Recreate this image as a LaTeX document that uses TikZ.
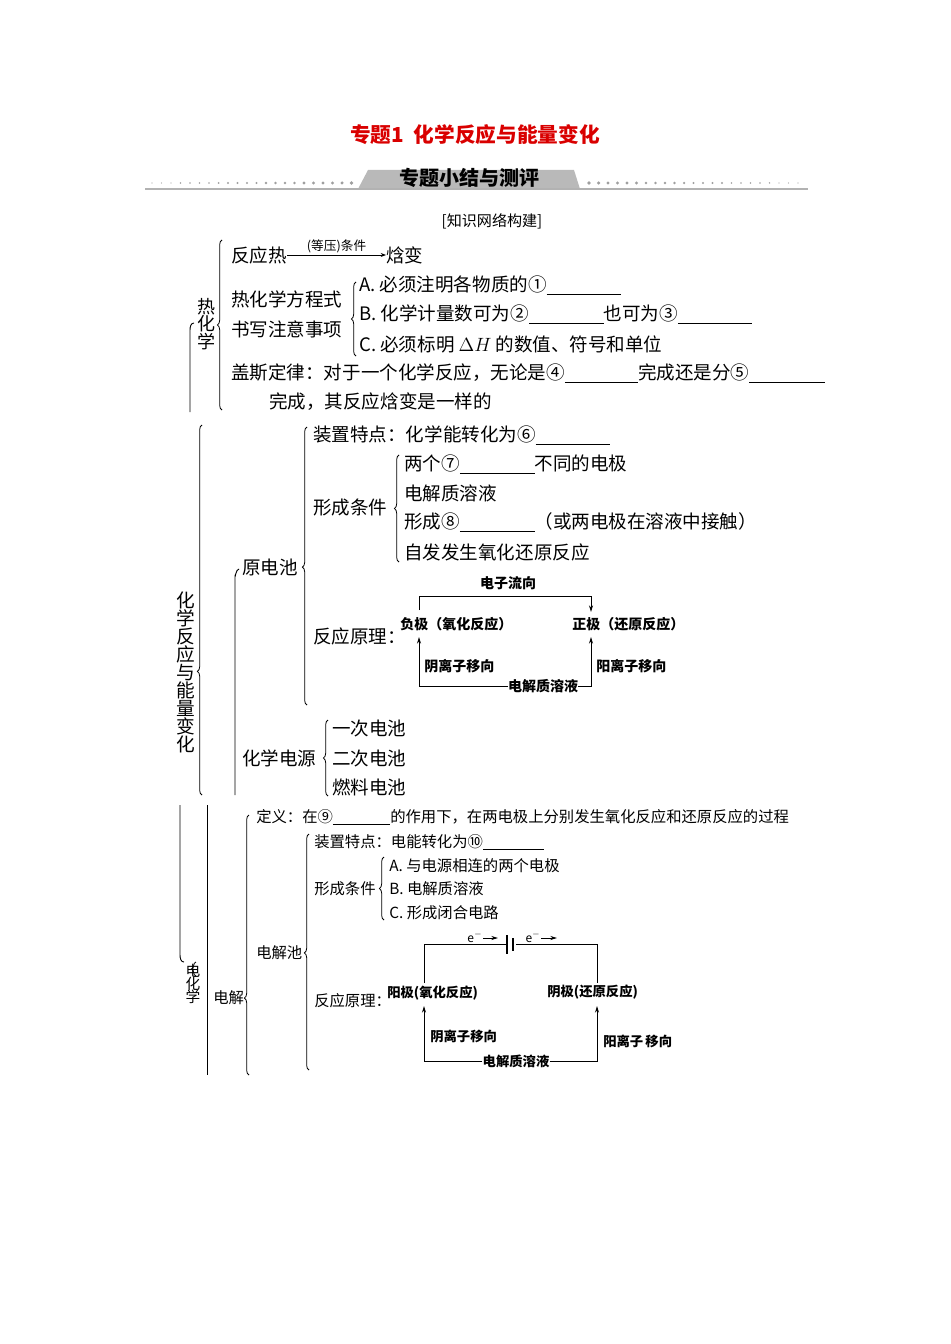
\documentclass[tikz,border=0pt]{standalone}
\usepackage{fontspec}
\setmainfont{Noto Sans CJK SC}
\usetikzlibrary{decorations.pathreplacing,arrows.meta}
\newcommand\blk[1]{\rule[-2pt]{#1}{0.5pt}}
\newcommand\brc[4]{\draw[br,decoration={brace,amplitude=3.5pt,aspect=#4}] (#1,#3) -- (#1,#2);}
\begin{document}
\begin{tikzpicture}[x=0.75pt,y=-0.75pt,
  txt/.style={anchor=west,inner sep=0pt,font=\fontsize{13.9}{16}\selectfont},
  stxt/.style={anchor=west,inner sep=0pt,font=\fontsize{11.5}{14}\selectfont},
  dtxt/.style={anchor=west,inner sep=0pt,font=\fontsize{10.5}{13}\selectfont\bfseries},
  br/.style={decorate,line width=0.6pt},
  ln/.style={line width=0.7pt},
  ar/.style={line width=0.7pt,-{Stealth[length=5pt,width=3pt]}}]
\useasboundingbox (0,0) rectangle (950,1344);
% header
\node[text=red!85!black,font=\fontsize{15.5}{18}\selectfont\bfseries] (title) at (475,135) {专题1\ \ 化学反应与能量变化};
\fill[gray!55] (358,189) -- (368,170) -- (574,170) -- (580,189) -- cycle;
\node[font=\fontsize{15}{18}\selectfont\bfseries] (banner) at (469,178) {专题小结与测评};
\draw[gray!60,line width=0.8pt] (145,189) -- (808,189);
\foreach \i in {0,...,21} {\pgfmathsetmacro\r{0.6+1.2*\i/21}\fill[gray!75] (152+\i*9.5,183) circle (\r);}
\foreach \i in {0,...,22} {\pgfmathsetmacro\r{1.8-1.2*\i/22}\fill[gray!75] (589+\i*9.5,183) circle (\r);}
\node[font=\fontsize{11.3}{14}\selectfont] (kw) at (492,221) {[知识网络构建]};
% section 1
\draw[ln] (190,412) -- (190,330) to[out=90,in=180] (194,323);
\brc{222}{240}{410}{0.5}
\node[font=\fontsize{13.5}{16}\selectfont,align=center,inner sep=0pt] (rhx) at (206,324) {热\\[-3pt]化\\[-3pt]学};
\node[txt] (fyr) at (231,255) {反应热};
\node[txt] (hb) at (386,255) {焓变};
\draw[ln,-{Stealth[length=4pt,width=3pt]}] (fyr.east) -- node[above=1pt,font=\fontsize{9.5}{11}\selectfont,inner sep=0pt]{(等压)条件} (hb.west);
\node[txt] (rfc) at (231,299) {热化学方程式};
\node[txt] (sx) at (231,329) {书写注意事项};
\brc{356}{282}{356}{0.5}
\node[txt] (A1) at (359,285) {A. 必须注明各物质的①\blk{56pt}};
\node[txt] (B1) at (359,314) {B. 化学计量数可为②\blk{56pt}也可为③\blk{56pt}};
\node[txt] (C1) at (359,344) {C. 必须标明 $\Delta H$ 的数值、符号和单位};
\node[txt] (gs) at (231,373) {盖斯定律：对于一个化学反应，无论是④\blk{55pt}完成还是分⑤\blk{57pt}};
\node[txt] (gs2) at (269,402) {完成，其反应焓变是一样的};
% section 2
\brc{202}{425}{795}{0.334}
\node[font=\fontsize{14}{16}\selectfont,align=center,inner sep=0pt] (hx) at (186,672) {化\\[-2.5pt]学\\[-2.5pt]反\\[-2.5pt]应\\[-2.5pt]与\\[-2.5pt]能\\[-2.5pt]量\\[-2.5pt]变\\[-2.5pt]化};
\draw[ln] (235,795) -- (235,576) to[out=-90,in=180] (239,569);
\node[txt] (ydc) at (242,567) {原电池};
\brc{307}{427}{705}{0.496}
\node[txt] (zz1) at (313,435) {装置特点：化学能转化为⑥\blk{56pt}};
\node[txt] (xc1) at (313,508) {形成条件};
\brc{399}{455}{562}{0.5}
\node[txt] (c7) at (404,464) {两个⑦\blk{56pt}不同的电极};
\node[txt] (c8) at (404,493) {电解质溶液};
\node[txt] (c9) at (404,522) {形成⑧\blk{56pt}（或两电极在溶液中接触）};
\node[txt] (c10) at (404,552) {自发发生氧化还原反应};
\node[txt] (yl1) at (313,636) {反应原理：};
\node[dtxt,anchor=center] (dz) at (508,583) {电子流向};
\node[dtxt] (fj) at (400,624) {负极（氧化反应）};
\node[dtxt] (zj) at (572,624) {正极（还原反应）};
\coordinate (fjt) at (419,610); \coordinate (zjt) at (591,612);
\draw[ln] (fjt) |- (505,596);
\draw[ar] (505,596) -| (zjt);
\node[dtxt,anchor=center] (dj1) at (543,686) {电解质溶液};
\draw[ar] (dj1.west) -| (419,637);
\draw[ar] (dj1.east) -| (591,637);
\node[dtxt] (yin1) at (424,666) {阴离子移向};
\node[dtxt] (yang1) at (596,666) {阳离子移向};
\node[txt] (hxdy) at (242,758) {化学电源};
\brc{328}{720}{796}{0.5}
\node[txt] (d1) at (332,728) {一次电池};
\node[txt] (d2) at (332,758) {二次电池};
\node[txt] (d3) at (332,787) {燃料电池};
% section 3
\draw[ln] (180,805) -- (180,955) to[out=-90,in=180] (184,962);
\brc{196}{962}{976}{0.5}
\node[font=\fontsize{11}{13}\selectfont,align=center,inner sep=0pt] (dhx) at (193,984) {电\\[-3pt]化\\[-3pt]学};
\draw[ln] (207,805) -- (207,1075);
\node[stxt] (dj) at (213,998) {电解};
\brc{249}{815}{1075}{0.296}
\node[stxt] (dy) at (256,817) {定义：在⑨\blk{43pt}的作用下，在两电极上分别发生氧化反应和还原反应的过程};
\node[stxt] (djc) at (256,953) {电解池};
\brc{309}{834}{1070}{0.496}
\node[stxt] (zz2) at (314,842) {装置特点：电能转化为⑩\blk{46pt}};
\node[stxt] (xc2) at (314,889) {形成条件};
\brc{384}{857}{920}{0.5}
\node[stxt] (a2) at (389,866) {A. 与电源相连的两个电极};
\node[stxt] (b2) at (389,889) {B. 电解质溶液};
\node[stxt] (cc2) at (389,913) {C. 形成闭合电路};
\node[stxt] (yl2) at (314,1001) {反应原理：};
\node[dtxt,font=\fontsize{10}{12}\selectfont\bfseries] (yangj) at (387,993) {阳极(氧化反应)};
\node[dtxt,font=\fontsize{10}{12}\selectfont\bfseries] (yinj) at (547,992) {阴极(还原反应)};
\coordinate (p1) at (424,983); \coordinate (p2) at (597,983);
\coordinate (bl) at (506,944); \coordinate (brr) at (516,944);
\draw[ln] (p1) |- (bl);
\draw[ln] (brr) -| (p2);
\draw[line width=0.8pt] (507,935) -- (507,954);
\draw[line width=1.6pt] (513,938) -- (513,951);
\node[font=\fontsize{9}{10}\selectfont,inner sep=0pt] (e1) at (475,937) {e$^-$};
\node[font=\fontsize{9}{10}\selectfont,inner sep=0pt] (e2) at (533,937) {e$^-$};
\coordinate (e1a) at (483,938); \coordinate (e1b) at (498,938);
\coordinate (e2a) at (541,938); \coordinate (e2b) at (557,938);
\draw[ar] (e1a) -- (e1b); \draw[ar] (e2a) -- (e2b);
\node[dtxt,anchor=center,font=\fontsize{10}{12}\selectfont\bfseries] (dj2) at (516,1061) {电解质溶液};
\draw[ar] (dj2.west) -| (424,1006);
\draw[ar] (dj2.east) -| (597,1006);
\node[dtxt,font=\fontsize{10}{12}\selectfont\bfseries] (yin2) at (430,1036) {阴离子移向};
\node[dtxt,font=\fontsize{10}{12}\selectfont\bfseries] (yang2) at (603,1041) {阳离子\,移向};
\end{tikzpicture}
\end{document}
